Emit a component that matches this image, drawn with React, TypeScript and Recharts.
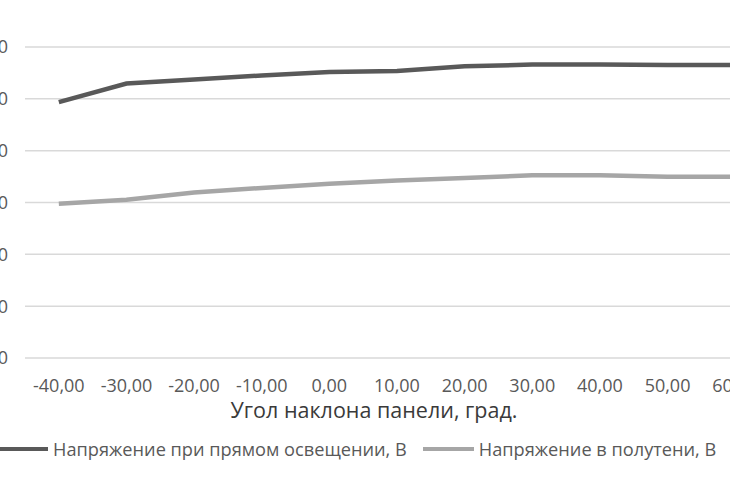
import React from "react";
import { LineChart, Line, XAxis, YAxis, CartesianGrid } from "recharts";

const angles = [-40, -30, -20, -10, 0, 10, 20, 30, 40, 50, 60];
const directLight = [9.87, 10.59, 10.75, 10.9, 11.04, 11.07, 11.26, 11.32, 11.32, 11.31, 11.3];
const halfShade = [5.95, 6.11, 6.39, 6.56, 6.72, 6.85, 6.95, 7.05, 7.05, 6.99, 6.99];
const yTicks = [0, 2, 4, 6, 8, 10, 12];

const seriesNames = [
  "Напряжение при прямом освещении, В",
  "Напряжение в полутени, В",
];
const seriesColors = ["#595959", "#a6a6a6"];
const xTitle = "Угол наклона панели, град.";

const data = angles.map((a, i) => ({
  angle: a,
  direct: directLight[i],
  shade: halfShade[i],
}));

const fmt = (v: number) => v.toFixed(2).replace(".", ",");

const FONT = '"Open Sans", sans-serif';

function AxisTitle(props: any) {
  const { viewBox } = props;
  return (
    <text
      x={viewBox.x + viewBox.width / 2 - 23}
      y={viewBox.y + 60}
      textAnchor="middle"
      fill="#3a3a3a"
      fontSize={21.5}
      fontFamily={FONT}
    >
      {xTitle}
    </text>
  );
}

export default function App() {
  return (
    <div
      style={{
        position: "fixed",
        left: 0,
        top: 0,
        width: 730,
        height: 486,
        overflow: "hidden",
        background: "#fff",
      }}
    >
      <div style={{ position: "absolute", left: -50, top: 0 }}>
        <LineChart
          width={830}
          height={486}
          data={data}
          margin={{ top: 47, right: 11, bottom: 0, left: 15 }}
        >
          <CartesianGrid vertical={false} stroke="#d9d9d9" strokeWidth={1.5} />
          <XAxis
            dataKey="angle"
            type="number"
            domain={[-45, 65]}
            ticks={angles}
            tickFormatter={fmt}
            axisLine={false}
            tickLine={false}
            tickSize={0}
            tickMargin={21}
            height={128}
            interval={0}
            tick={{ fill: "#595959", fontSize: 18, fontFamily: FONT }}
            label={{ content: AxisTitle }}
          />
          <YAxis
            domain={[0, 12]}
            ticks={yTicks}
            tickFormatter={fmt}
            axisLine={false}
            tickLine={false}
            tickSize={0}
            tickMargin={17}
            width={60}
            tick={{ fill: "#595959", fontSize: 18, fontFamily: FONT }}
          />
          <Line
            dataKey="direct"
            stroke={seriesColors[0]}
            strokeWidth={4.5}
            dot={false}
            isAnimationActive={false}
          />
          <Line
            dataKey="shade"
            stroke={seriesColors[1]}
            strokeWidth={4.5}
            dot={false}
            isAnimationActive={false}
          />
        </LineChart>
      </div>
      <div
        style={{
          position: "absolute",
          left: -3,
          top: 437,
          display: "flex",
          alignItems: "center",
          whiteSpace: "nowrap",
          fontFamily: FONT,
          fontSize: 18.2,
          color: "#595959",
        }}
      >
        {seriesNames.map((name, i) => (
          <div
            key={name}
            style={{ display: "flex", alignItems: "center", marginRight: 16 }}
          >
            <span
              style={{
                display: "inline-block",
                width: 51,
                height: 4.5,
                background: seriesColors[i],
                marginRight: 5,
              }}
            />
            <span>{name}</span>
          </div>
        ))}
      </div>
    </div>
  );
}
